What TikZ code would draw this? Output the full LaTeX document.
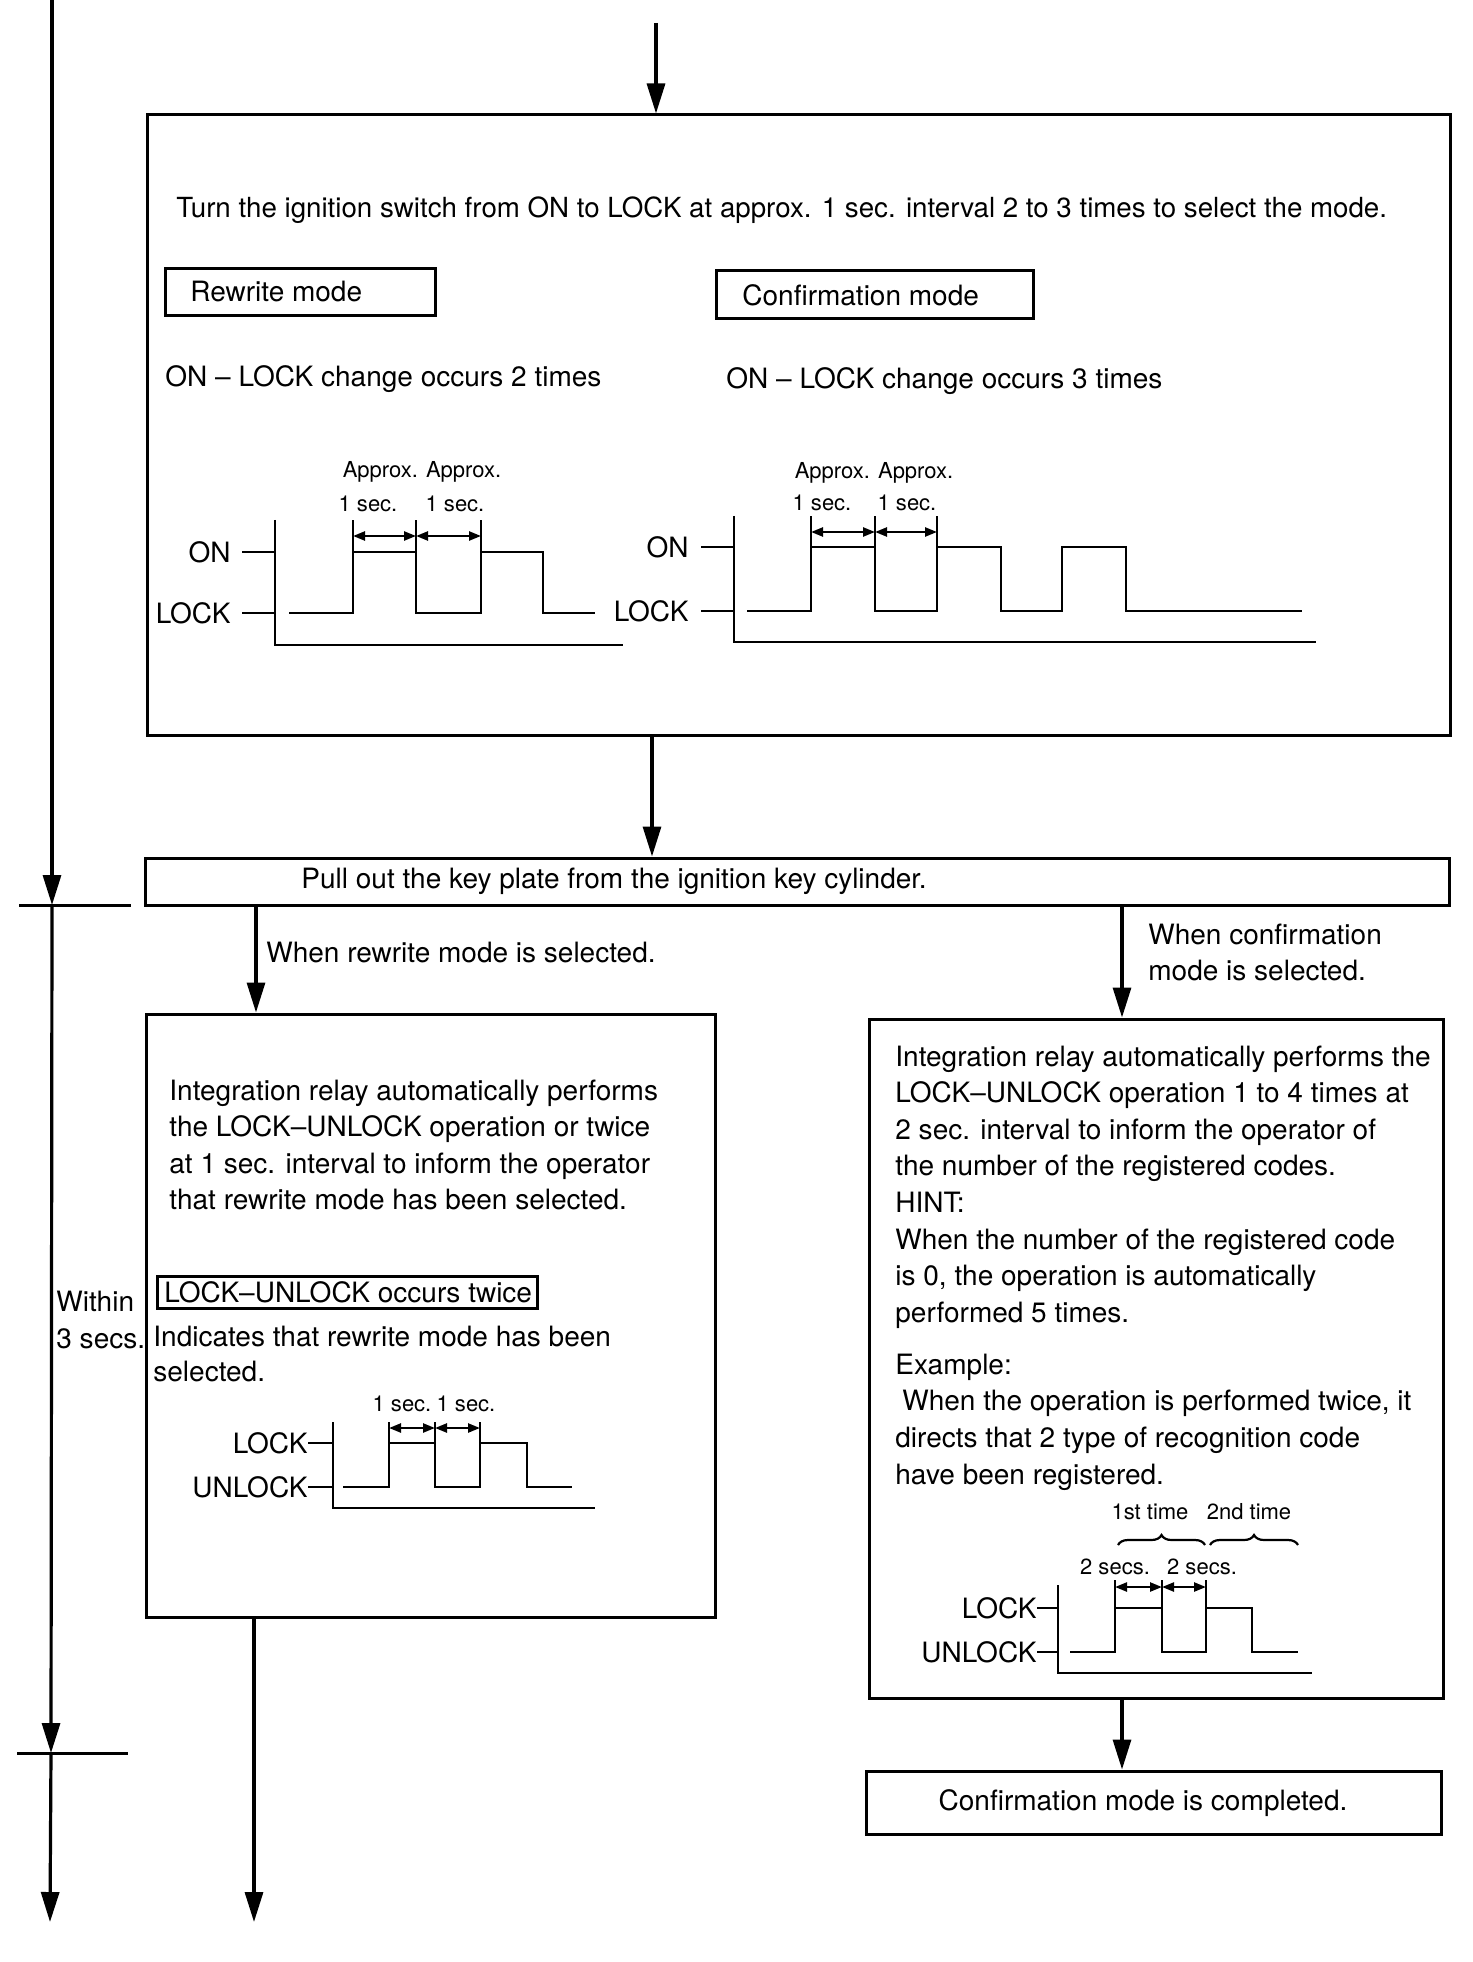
\documentclass[tikz,border=0pt]{standalone}
\usepackage{fontspec}
\setmainfont{TeX Gyre Heros}
\usetikzlibrary{arrows.meta,fit,decorations.pathreplacing}
\begin{document}
\begin{tikzpicture}[x=0.5pt,y=-0.5pt,
  box/.style={draw, line width=1.5pt, inner sep=0pt},
  arr/.style={line width=1.6pt, -{Triangle[length=15pt,width=9pt]}},
  plain/.style={line width=1.5pt},
  sig/.style={line width=1.4pt},
  axis/.style={line width=1.2pt},
  dim/.style={line width=1.2pt, {Triangle[length=6pt,width=4.5pt]}-{Triangle[length=6pt,width=4.5pt]}},
  txt/.style={inner sep=0pt, anchor=west, font=\fontsize{14}{18.3}\selectfont, align=left},
  small/.style={inner sep=0pt, font=\fontsize{11}{13}\selectfont},
  lab/.style={inner sep=0pt, anchor=east, font=\fontsize{14}{16}\selectfont},
  brc/.style={line width=1.1pt, decorate, decoration={brace, amplitude=5pt}},
]
\useasboundingbox (0,0) rectangle (1472,1962);
\fill[white] (0,0) rectangle (1472,1962);

% ---------- boxes ----------
\node[box, fit={(147,115) (1450,735)}] (top) {};
\node[box, fit={(165,269) (435,316)}] (rwbox) {};
\node[box, fit={(716,271) (1033,319)}] (cmbox) {};
\node[box, fit={(145,858) (1449,905)}] (key) {};
\node[box, fit={(146,1014) (715,1617)}] (rw) {};
\node[box, fit={(157,1276) (537,1308)}] (twice) {};
\node[box, fit={(869,1019) (1443,1698)}] (cf) {};
\node[box, fit={(866,1771) (1441,1834)}] (done) {};

% ---------- texts ----------
\node[txt, font=\fontsize{13.85}{16}\selectfont] (t1) at (176,210) {Turn the ignition switch from ON to LOCK at approx. 1 sec. interval 2 to 3 times to select the mode.};
\node[txt] (t2) at (190,292) {Rewrite mode};
\node[txt] (t3) at (742,295) {Confirmation mode};
\node[txt] (t4) at (165,379) {ON -- LOCK change occurs 2 times};
\node[txt] (t5) at (726,381) {ON -- LOCK change occurs 3 times};
\node[txt] (t6) at (301,881) {Pull out the key plate from the ignition key cylinder.};
\node[txt] (t7) at (266,952) {When rewrite mode is selected.};
\node[txt, font=\fontsize{14}{18}\selectfont] (t8) at (1148,952) {When confirmation\\mode is selected.};
\node[txt] (t9) at (169,1145) {Integration relay automatically performs\\the LOCK–UNLOCK operation or twice\\at 1 sec. interval to inform the operator\\that rewrite mode has been selected.};
\node[txt] (t10) at (164,1292) {LOCK–UNLOCK occurs twice};
\node[txt, font=\fontsize{14}{17.5}\selectfont] (t11) at (153,1354) {Indicates that rewrite mode has been\\selected.};
\node[txt] (t12) at (895,1187) {Integration relay automatically performs the\\LOCK–UNLOCK operation 1 to 4 times at\\2 sec. interval to inform the operator of\\the number of the registered codes.\\HINT:\\When the number of the registered code\\is 0, the operation is automatically\\performed 5 times.};
\node[txt] (t13) at (895,1422) {Example:\\\hspace{3.5pt}When the operation is performed twice, it\\directs that 2 type of recognition code\\have been registered.};
\node[txt] (t14) at (56,1320) {Within\\3 secs.};
\node[inner sep=0pt, font=\fontsize{14}{16}\selectfont] (t15) at (1143,1803) {Confirmation mode is completed.};

% ---------- connectors ----------
\coordinate (in) at (656,23);
\draw[arr] (in) -- (in |- top.north);
\coordinate (a1) at (652,0);
\draw[arr] (top.south -| a1) -- (key.north -| a1);
\coordinate (a2) at (256,0);
\draw[arr] (key.south -| a2) -- (rw.north -| a2);
\coordinate (a3) at (1122,0);
\draw[arr] (key.south -| a3) -- (cf.north -| a3);
\draw[arr] (cf.south -| a3) -- (done.north -| a3);
\coordinate (a4) at (254,1922);
\draw[arr] (rw.south -| a4) -- (a4);

% left timeline
\coordinate (L0) at (52,0);
\coordinate (L1) at (52,905);
\coordinate (L2) at (51,1753);
\coordinate (L3) at (50,1922);
\draw[arr] (L0) -- (L1);
\draw[arr] (L1) -- (L2);
\draw[arr] (L2) -- (L3);
\draw[plain] (19,905) -- (131,905);
\draw[plain] (17,1753) -- (128,1753);

% ---------- timing diagram 1 (rewrite, top) ----------
\draw[axis] (275,520) -- (275,645) -- (623,645);
\draw[axis] (242,552) -- (275,552);
\draw[axis] (242,613) -- (275,613);
\node[lab] (on1) at (231,552) {ON};
\node[lab] (lk1) at (231,613) {LOCK};
\draw[sig] (289,613) -- (353,613) -- (353,552) -- (416,552) -- (416,613) -- (481,613) -- (481,552) -- (543,552) -- (543,613) -- (595,613);
\draw[axis] (353,552) -- (353,520) (416,552) -- (416,520) (481,552) -- (481,520);
\draw[dim] (353,536) -- (416,536);
\draw[dim] (416,536) -- (481,536);
\node[small] (ap1) at (422,472) {Approx. Approx.};
\node[small] (s11) at (368,504) {1 sec.};
\node[small] (s12) at (455,504) {1 sec.};

% ---------- timing diagram 2 (confirmation, top) ----------
\draw[axis] (734,516) -- (734,642) -- (1316,642);
\draw[axis] (701,547) -- (734,547);
\draw[axis] (701,611) -- (734,611);
\node[lab] (on2) at (689,547) {ON};
\node[lab] (lk2) at (689,611) {LOCK};
\draw[sig] (747,611) -- (811,611) -- (811,547) -- (875,547) -- (875,611) -- (937,611) -- (937,547) -- (1001,547) -- (1001,611) -- (1062,611) -- (1062,547) -- (1126,547) -- (1126,611) -- (1302,611);
\draw[axis] (811,547) -- (811,516) (875,547) -- (875,516) (937,547) -- (937,516);
\draw[dim] (811,532) -- (875,532);
\draw[dim] (875,532) -- (937,532);
\node[small] (ap2) at (874,473) {Approx. Approx.};
\node[small] (s21) at (822,503) {1 sec.};
\node[small] (s22) at (907,503) {1 sec.};

% ---------- timing diagram 3 (rewrite, lower) ----------
\draw[axis] (333,1422) -- (333,1508) -- (595,1508);
\draw[axis] (308,1443) -- (333,1443);
\draw[axis] (308,1487) -- (333,1487);
\node[lab] (lk3) at (308,1443) {LOCK};
\node[lab] (ul3) at (308,1487) {UNLOCK};
\draw[sig] (343,1487) -- (389,1487) -- (389,1443) -- (435,1443) -- (435,1487) -- (480,1487) -- (480,1443) -- (527,1443) -- (527,1487) -- (572,1487);
\draw[axis] (389,1443) -- (389,1422) (435,1443) -- (435,1422) (480,1443) -- (480,1422);
\draw[dim] (389,1428) -- (435,1428);
\draw[dim] (435,1428) -- (480,1428);
\node[small] (s31) at (402,1404) {1 sec.};
\node[small] (s32) at (466,1404) {1 sec.};

% ---------- timing diagram 4 (confirmation, lower) ----------
\draw[axis] (1058,1585) -- (1058,1673) -- (1312,1673);
\draw[axis] (1037,1608) -- (1058,1608);
\draw[axis] (1037,1652) -- (1058,1652);
\node[lab] (lk4) at (1037,1608) {LOCK};
\node[lab] (ul4) at (1037,1652) {UNLOCK};
\draw[sig] (1070,1652) -- (1115,1652) -- (1115,1608) -- (1162,1608) -- (1162,1652) -- (1206,1652) -- (1206,1608) -- (1252,1608) -- (1252,1652) -- (1298,1652);
\draw[axis] (1115,1608) -- (1115,1580) (1162,1608) -- (1162,1580) (1206,1608) -- (1206,1580);
\draw[dim] (1115,1587) -- (1162,1587);
\draw[dim] (1162,1587) -- (1206,1587);
\node[small] (s41) at (1115,1567) {2 secs.};
\node[small] (s42) at (1202,1567) {2 secs.};
\draw[brc] (1118,1545) -- (1205,1545);
\draw[brc] (1210,1545) -- (1298,1545);
\node[small] (f1) at (1150,1512) {1st time};
\node[small] (f2) at (1249,1512) {2nd time};
\end{tikzpicture}
\end{document}
